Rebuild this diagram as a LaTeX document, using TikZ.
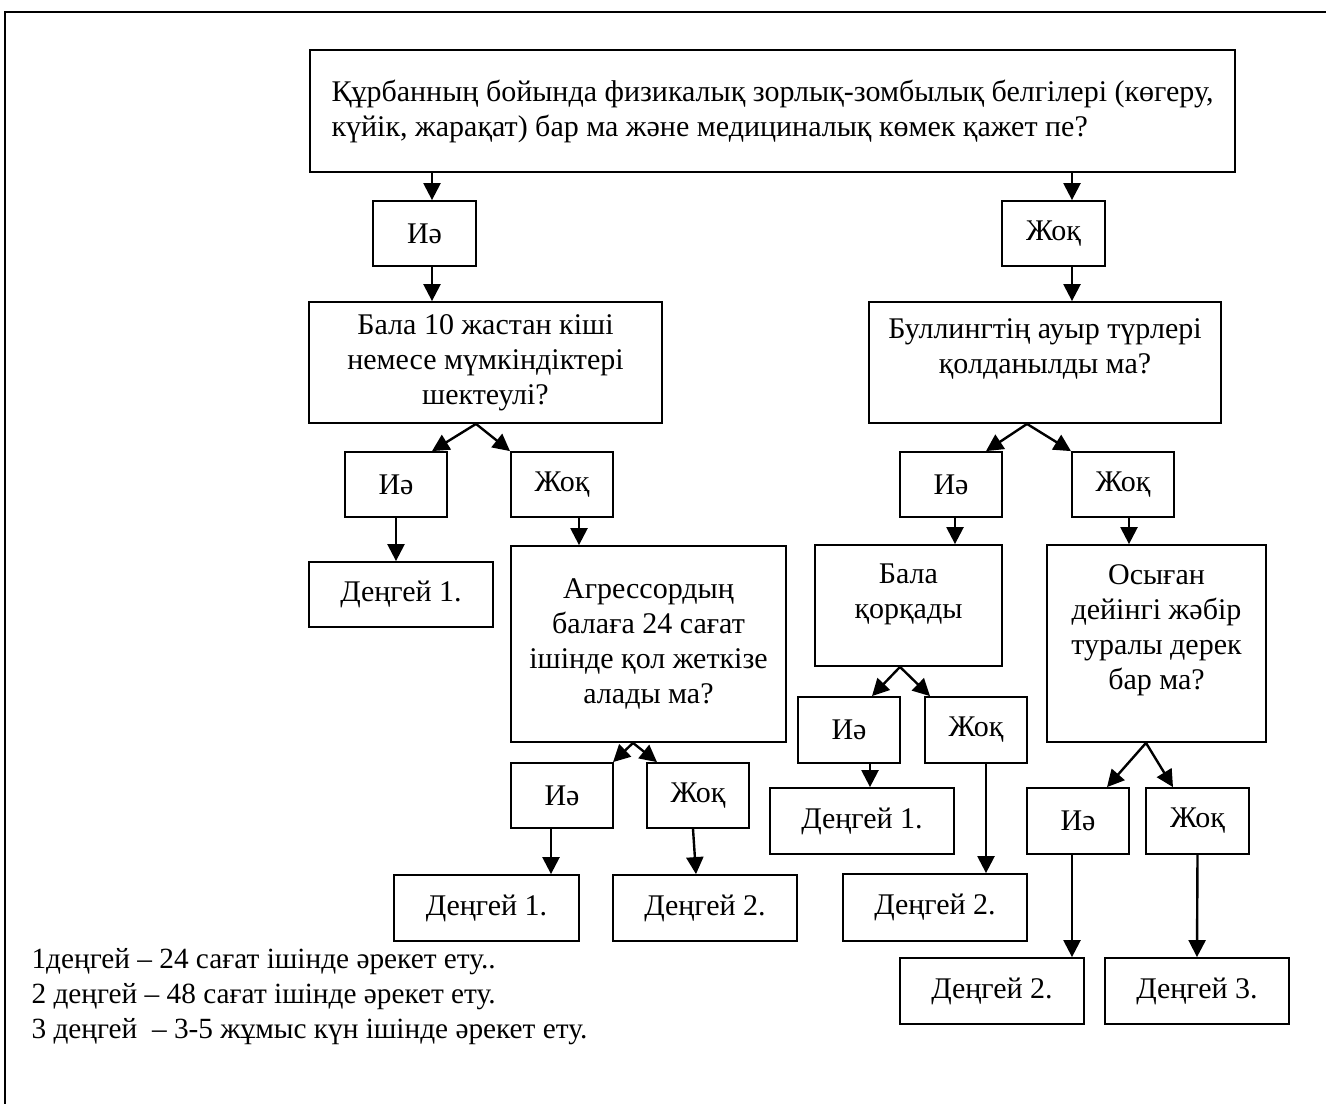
\documentclass[tikz,border=0pt]{standalone}
\usepackage{fontspec}
\setmainfont{Liberation Serif}
\usetikzlibrary{arrows.meta}
\begin{document}
\begin{tikzpicture}[
        x=1pt, y=-1pt,
        font=\fontsize{30}{35}\selectfont
    ]
    \tikzset{
        mybox/.style = {rectangle, draw=black, line width=1.8pt, align=center, inner sep=0pt},
        myans/.style = {mybox, minimum width=103pt, minimum height=65pt},
        mylev/.style = {mybox, minimum width=184pt, minimum height=66pt},
        mytop/.style = {anchor=north, align=center, inner sep=0pt, yshift=-20pt},
        edgea/.style = {-{Triangle[length=17pt,width=17pt]}, line width=2.4pt},
    }
    \useasboundingbox (0,0) rectangle (1326,1104);
    \draw[line width=2pt] (1326,12) -- (5,12) -- (5,1104);
    %
    \node[mybox, minimum width=925pt, minimum height=122pt, align=left] (top) at (772.5,111)
        {Құрбанның бойында физикалық зорлық-зомбылық белгілері (көгеру,\\күйік, жарақат) бар ма және медициналық көмек қажет пе?};
    \node[myans] (ie1) at (424.5,233.5) {Иә};
    \node[myans] (jok1) at (1053.5,233.5) {Жоқ};
    \node[mybox, minimum width=353pt, minimum height=121pt] (bala) at (485.5,362.5)
        {Бала 10 жастан кіші\\немесе мүмкіндіктері\\шектеулі?};
    \node[mybox, minimum width=352pt, minimum height=121pt,
        label={[mytop, yshift=3pt]north:Буллингтің ауыр түрлері\\қолданылды ма?}] (bully) at (1045,362.5) {};
    %
    \node[myans, minimum width=102pt] (ie2) at (396,484.5) {Иә};
    \node[myans, minimum width=102pt] (jok2) at (562,484.5) {Жоқ};
    \node[mylev, minimum height=65pt] (den1a) at (401,594.5) {Деңгей 1.};
    \node[mybox, minimum width=275pt, minimum height=196pt] (aggr) at (648.5,644)
        {Агрессордың\\балаға 24 сағат\\ішінде қол жеткізе\\алады ма?};
    \node[myans, minimum width=102pt] (ie3) at (562,795.5) {Иә};
    \node[myans, minimum width=102pt] (jok3) at (698,795.5) {Жоқ};
    \node[mylev, minimum width=185pt] (den1b) at (486.5,908) {Деңгей 1.};
    \node[mylev] (den2a) at (705,908) {Деңгей 2.};
    %
    \node[myans, minimum width=102pt] (ie4) at (951,484.5) {Иә};
    \node[myans, minimum width=102pt] (jok4) at (1123,484.5) {Жоқ};
    \node[mybox, minimum width=187pt, minimum height=121pt,
        label={[mytop]north:Бала\\қорқады}] (afraid) at (908.5,605.5) {};
    \node[mybox, minimum width=219pt, minimum height=197pt,
        label={[mytop]north:Осыған\\дейінгі жәбір\\туралы дерек\\бар ма?}] (prior) at (1156.5,643.5) {};
    \node[myans, minimum width=102pt, minimum height=66pt] (ie5) at (849,730) {Иә};
    \node[myans, minimum width=102pt, minimum height=66pt] (jok5) at (976,730) {Жоқ};
    \node[mylev] (den1c) at (862,821) {Деңгей 1.};
    \node[mylev, minimum height=67pt] (den2b) at (935,907.5) {Деңгей 2.};
    \node[myans, minimum width=102pt, minimum height=66pt] (ie6) at (1078,821) {Иә};
    \node[myans, minimum width=103pt, minimum height=66pt] (jok6) at (1197.5,821) {Жоқ};
    \node[mylev] (den2c) at (992,991) {Деңгей 2.};
    \node[mylev] (den3) at (1197,991) {Деңгей 3.};
    %
    \node[anchor=west, align=left, font=\fontsize{29.3}{35}\selectfont] (legend) at (28,997)
        {1деңгей – 24 сағат ішінде әрекет ету..\\2 деңгей – 48 сағат ішінде әрекет ету.\\3 деңгей\ \ – 3-5 жұмыс күн ішінде әрекет ету.};
    %
    \draw[edgea] ([xshift=-340.5pt]top.south) -- ([xshift=7.5pt]ie1.north);
    \draw[edgea] ([xshift=299.5pt]top.south) -- ([xshift=18.5pt]jok1.north);
    \draw[edgea] ([xshift=7.5pt]ie1.south) -- ([xshift=-53.5pt]bala.north);
    \draw[edgea] ([xshift=18.5pt]jok1.south) -- ([xshift=27pt]bully.north);
    %
    \draw[edgea] ([xshift=-9.5pt]bala.south) -- ([xshift=36pt]ie2.north);
    \draw[edgea] ([xshift=-9.5pt]bala.south) -- ([xshift=-52pt]jok2.north);
    \draw[edgea] (ie2.south) -- ([xshift=-5pt]den1a.north);
    \draw[edgea] ([xshift=17pt]jok2.south) -- ([xshift=-69.5pt]aggr.north);
    \draw[edgea] ([xshift=-15.5pt]aggr.south) -- ([xshift=51pt]ie3.north);
    \draw[edgea] ([xshift=-15.5pt]aggr.south) -- ([xshift=-41pt]jok3.north);
    \draw[edgea] ([xshift=-11pt]ie3.south) -- ([xshift=64.5pt]den1b.north);
    \draw[edgea] ([xshift=-5pt]jok3.south) -- ([xshift=-9pt]den2a.north);
    %
    \draw[edgea] ([xshift=-18pt]bully.south) -- ([xshift=35pt]ie4.north);
    \draw[edgea] ([xshift=-18pt]bully.south) -- ([xshift=-52pt]jok4.north);
    \draw[edgea] ([xshift=4pt]ie4.south) -- ([xshift=46.5pt]afraid.north);
    \draw[edgea] ([xshift=6pt]jok4.south) -- ([xshift=-27.5pt]prior.north);
    \draw[edgea] ([xshift=-8.5pt]afraid.south) -- ([xshift=23pt]ie5.north);
    \draw[edgea] ([xshift=-8.5pt]afraid.south) -- ([xshift=-46pt]jok5.north);
    \draw[edgea] ([xshift=21pt]ie5.south) -- ([xshift=8pt]den1c.north);
    \draw[edgea] ([xshift=10pt]jok5.south) -- ([xshift=51pt]den2b.north);
    \draw[edgea] ([xshift=-10.5pt]prior.south) -- ([xshift=29pt]ie6.north);
    \draw[edgea] ([xshift=-10.5pt]prior.south) -- ([xshift=-24.5pt]jok6.north);
    \draw[edgea] ([xshift=-6pt]ie6.south) -- ([xshift=80pt]den2c.north);
    \draw[edgea] (jok6.south) -- (den3.north);
\end{tikzpicture}
\end{document}
